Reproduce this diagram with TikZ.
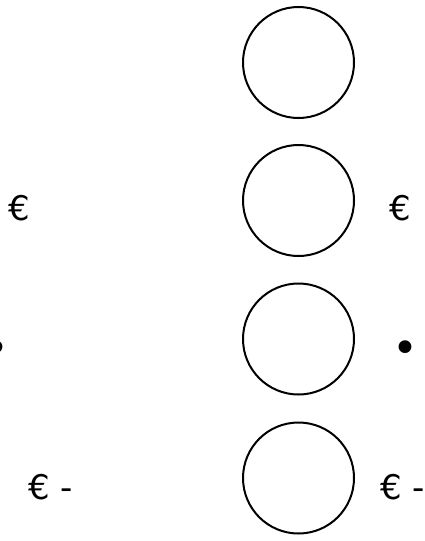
\documentclass[tikz,border=0pt]{standalone}
\usepackage{fontspec}
\setmainfont{DejaVu Sans}
\usetikzlibrary{positioning}

\begin{document}
\begin{tikzpicture}[
  x=1pt, y=-1pt,
  ring/.style={draw, circle, line width=2pt, minimum size=111pt, inner sep=0pt},
  sym/.style={font=\fontsize{34}{34}\selectfont, inner sep=0pt, anchor=base west},
  bullet/.style={sym, font=\fontsize{44}{44}\selectfont}
]
\useasboundingbox (0,0) rectangle (425,541);

\node[ring] (c1) at (298.5, 62.5) {};
\node[ring] (c2) at (298.5, 200.5) {};
\node[ring] (c3) at (298.5, 339) {};
\node[ring] (c4) at (298.5, 478) {};

\node[sym] (euroL) at (8, 220) {€};
\node[sym] (euroR) at (389, 220) {€};

\node[bullet] (dotL) at (-16.5, 363) {•};
\node[bullet] (dotR) at (392.5, 363) {•};

\node[sym] (minusL) at (28, 499) {€ -};
\node[sym] (minusR) at (380, 499) {€ -};

\end{tikzpicture}
\end{document}
